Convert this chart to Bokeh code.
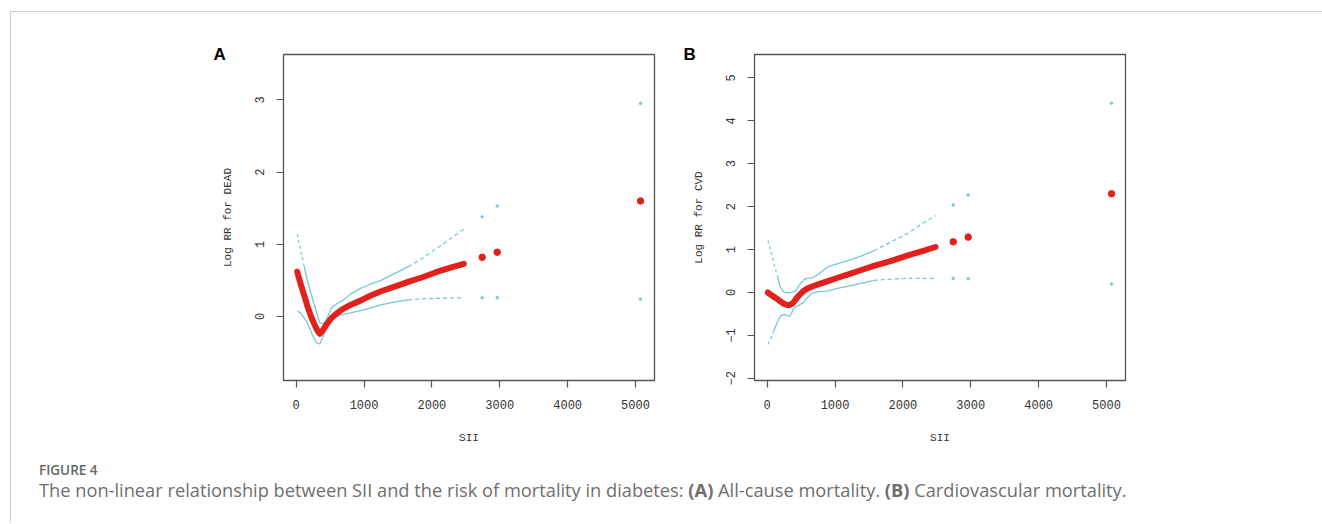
from bokeh.plotting import figure
from bokeh.models import Range1d, Div, Spacer, FixedTicker
from bokeh.layouts import column, row
from bokeh.embed import file_html
from bokeh.resources import INLINE

# ---------------- data ----------------
# Panel A: all-cause mortality (Log RR for DEAD)
sii_a = [15, 60, 112, 160, 211, 260, 309, 348, 400, 456, 520, 604, 700, 800,
         947, 1100, 1250, 1440, 1650, 1850, 2050, 2250, 2470]
fit_a = [0.62, 0.47, 0.31, 0.16, 0.02, -0.09, -0.19, -0.24, -0.18, -0.10, -0.02,
         0.05, 0.11, 0.16, 0.22, 0.29, 0.35, 0.41, 0.48, 0.54, 0.61, 0.67, 0.73]
upper_a = [1.14, 0.94, 0.72, 0.51, 0.34, 0.18, 0.03, -0.09, -0.10, -0.02, 0.12,
           0.18, 0.23, 0.31, 0.39, 0.45, 0.50, 0.59, 0.69, 0.80, 0.93, 1.06, 1.21]
lower_a = [0.08, 0.05, -0.01, -0.08, -0.19, -0.30, -0.37, -0.38, -0.27, -0.15,
           -0.05, 0.01, 0.03, 0.05, 0.08, 0.12, 0.16, 0.20, 0.23, 0.245, 0.25,
           0.255, 0.26]
tail_sii_a = [2741, 2962, 5074]
tail_fit_a = [0.82, 0.89, 1.60]
tail_upper_a = [1.38, 1.53, 2.95]
tail_lower_a = [0.26, 0.26, 0.24]

# Panel B: cardiovascular mortality (Log RR for CVD)
sii_b = [10, 60, 98, 147, 196, 245, 295, 330, 368, 392, 430, 466, 540, 589, 663,
         750, 884, 1050, 1227, 1400, 1571, 1817, 2063, 2300, 2480]
fit_b = [0.0, -0.06, -0.10, -0.15, -0.21, -0.26, -0.29, -0.29, -0.26, -0.22,
         -0.14, -0.07, 0.04, 0.09, 0.14, 0.19, 0.26, 0.35, 0.44, 0.53, 0.62,
         0.73, 0.86, 0.97, 1.06]
upper_b = [1.21, 0.93, 0.67, 0.40, 0.12, 0.01, -0.01, 0.0, 0.01, 0.02, 0.05,
           0.16, 0.30, 0.33, 0.34, 0.42, 0.59, 0.68, 0.76, 0.86, 0.97, 1.17,
           1.37, 1.62, 1.79]
lower_b = [-1.21, -1.04, -0.89, -0.70, -0.55, -0.51, -0.53, -0.56, -0.45, -0.36,
           -0.32, -0.30, -0.22, -0.12, -0.02, 0.02, 0.03, 0.10, 0.16, 0.22, 0.28,
           0.31, 0.33, 0.33, 0.33]
tail_sii_b = [2741, 2962, 5074]
tail_fit_b = [1.18, 1.29, 2.30]
tail_upper_b = [2.04, 2.27, 4.41]
tail_lower_b = [0.33, 0.32, 0.20]

x_ticks = [0, 1000, 2000, 3000, 4000, 5000]
y_ticks_a = [0, 1, 2, 3]
y_ticks_b = [-2, -1, 0, 1, 2, 3, 4, 5]

RED = "#e3211c"
CYAN = "#78c8d6"
AX = "#555555"
MONO = "Liberation Mono"


def panel(width, left, right, y_range, yticks, ylabel, sii, fit, upper, lower,
          up_seg, lo_seg, tsii, tfit, tup, tlo, letter, letter_offset):
    p = figure(width=width, height=445, x_range=Range1d(-187, 5280),
               y_range=Range1d(*y_range), output_backend="svg",
               toolbar_location=None, min_border_left=left,
               min_border_right=right, min_border_top=42, min_border_bottom=77,
               title=letter)
    p.grid.visible = False
    p.outline_line_color = AX
    p.outline_line_width = 1.3
    p.background_fill_color = "white"
    p.border_fill_color = "white"

    p.title.align = "left"
    p.title.offset = letter_offset
    p.title.standoff = -19
    p.title.text_font = "Liberation Sans"
    p.title.text_font_style = "bold"
    p.title.text_font_size = "17px"
    p.title.text_color = "black"

    for ax, ticks in ((p.xaxis[0], x_ticks), (p.yaxis[0], yticks)):
        ax.ticker = FixedTicker(ticks=ticks)
        ax.axis_line_color = None
        ax.major_tick_line_color = AX
        ax.major_tick_line_width = 1.2
        ax.major_tick_out = 7
        ax.major_tick_in = 0
        ax.minor_tick_line_color = None
        ax.major_label_text_font = MONO
        ax.major_label_text_font_size = "12px"
        ax.major_label_text_color = "#333333"
        ax.major_label_standoff = 12
        ax.axis_label_text_font = MONO
        ax.axis_label_text_font_size = "11px"
        ax.axis_label_text_font_style = "normal"
        ax.axis_label_text_color = "#333333"
    p.xaxis.axis_label = "SII"
    p.xaxis.axis_label_standoff = 20
    p.yaxis.axis_label = ylabel
    p.yaxis.axis_label_standoff = 19
    p.yaxis.major_label_orientation = "vertical"

    # confidence band lines: dotted where data are sparse, solid elsewhere
    a, b = up_seg
    p.line(sii[:a + 1], upper[:a + 1], color=CYAN, line_width=1.3, line_dash="3 3")
    p.line(sii[a:b + 1], upper[a:b + 1], color=CYAN, line_width=1.3)
    p.line(sii[b:], upper[b:], color=CYAN, line_width=1.3, line_dash="4 3")
    a, b = lo_seg
    if a > 0:
        p.line(sii[:a + 1], lower[:a + 1], color=CYAN, line_width=1.3, line_dash="3 3")
    p.line(sii[a:b + 1], lower[a:b + 1], color=CYAN, line_width=1.3)
    p.line(sii[b:], lower[b:], color=CYAN, line_width=1.3, line_dash="4 3")
    p.scatter(tsii, tup, size=2.5, color=CYAN)
    p.scatter(tsii, tlo, size=2.5, color=CYAN)

    # fitted curve
    p.line(sii, fit, color=RED, line_width=6, line_cap="round", line_join="round")
    p.scatter(tsii, tfit, size=6.5, color=RED)
    return p


pa = panel(659, 272, 16, (-0.886, 3.628), y_ticks_a, "Log RR for DEAD",
           sii_a, fit_a, upper_a, lower_a, (2, 18), (0, 18),
           tail_sii_a, tail_fit_a, tail_upper_a, tail_lower_a, "A", -70)
pb = panel(652, 84, 197, (-2.050, 5.544), y_ticks_b, "Log RR for CVD",
           sii_b, fit_b, upper_b, lower_b, (3, 20), (2, 20),
           tail_sii_b, tail_fit_b, tail_upper_b, tail_lower_b, "B", -71)

caption_html = (
    '<div style="font-family:\'Open Sans\';padding-left:28px;">'
    '<div style="font-size:13.5px;font-weight:600;line-height:14px;margin-top:6px;'
    'color:#666666;">FIGURE 4</div>'
    '<div style="font-size:18.25px;line-height:20px;margin-top:3px;white-space:nowrap;'
    'color:#6e6e6e;">'
    'The non-linear relationship between SII and the risk of mortality in diabetes: '
    '<b>(A)</b> All-cause mortality. <b>(B)</b> Cardiovascular mortality.</div></div>'
)
caption = Div(text=caption_html, width=1311, height=67, margin=0)

content = column(row(pa, pb, spacing=0), caption, spacing=0)
top_line = Div(text="", width=1312, height=1, margin=0,
               styles={"background-color": "#cfcfcf"})
left_line = Div(text="", width=1, height=511, margin=0,
                styles={"background-color": "#cfcfcf"})
inner = column(top_line, row(left_line, content, spacing=0), spacing=0)
root = column(Spacer(width=1322, height=11, margin=0),
              row(Spacer(width=10, height=512, margin=0), inner, spacing=0),
              spacing=0)

open("out.html", "w").write(file_html(root, INLINE))
